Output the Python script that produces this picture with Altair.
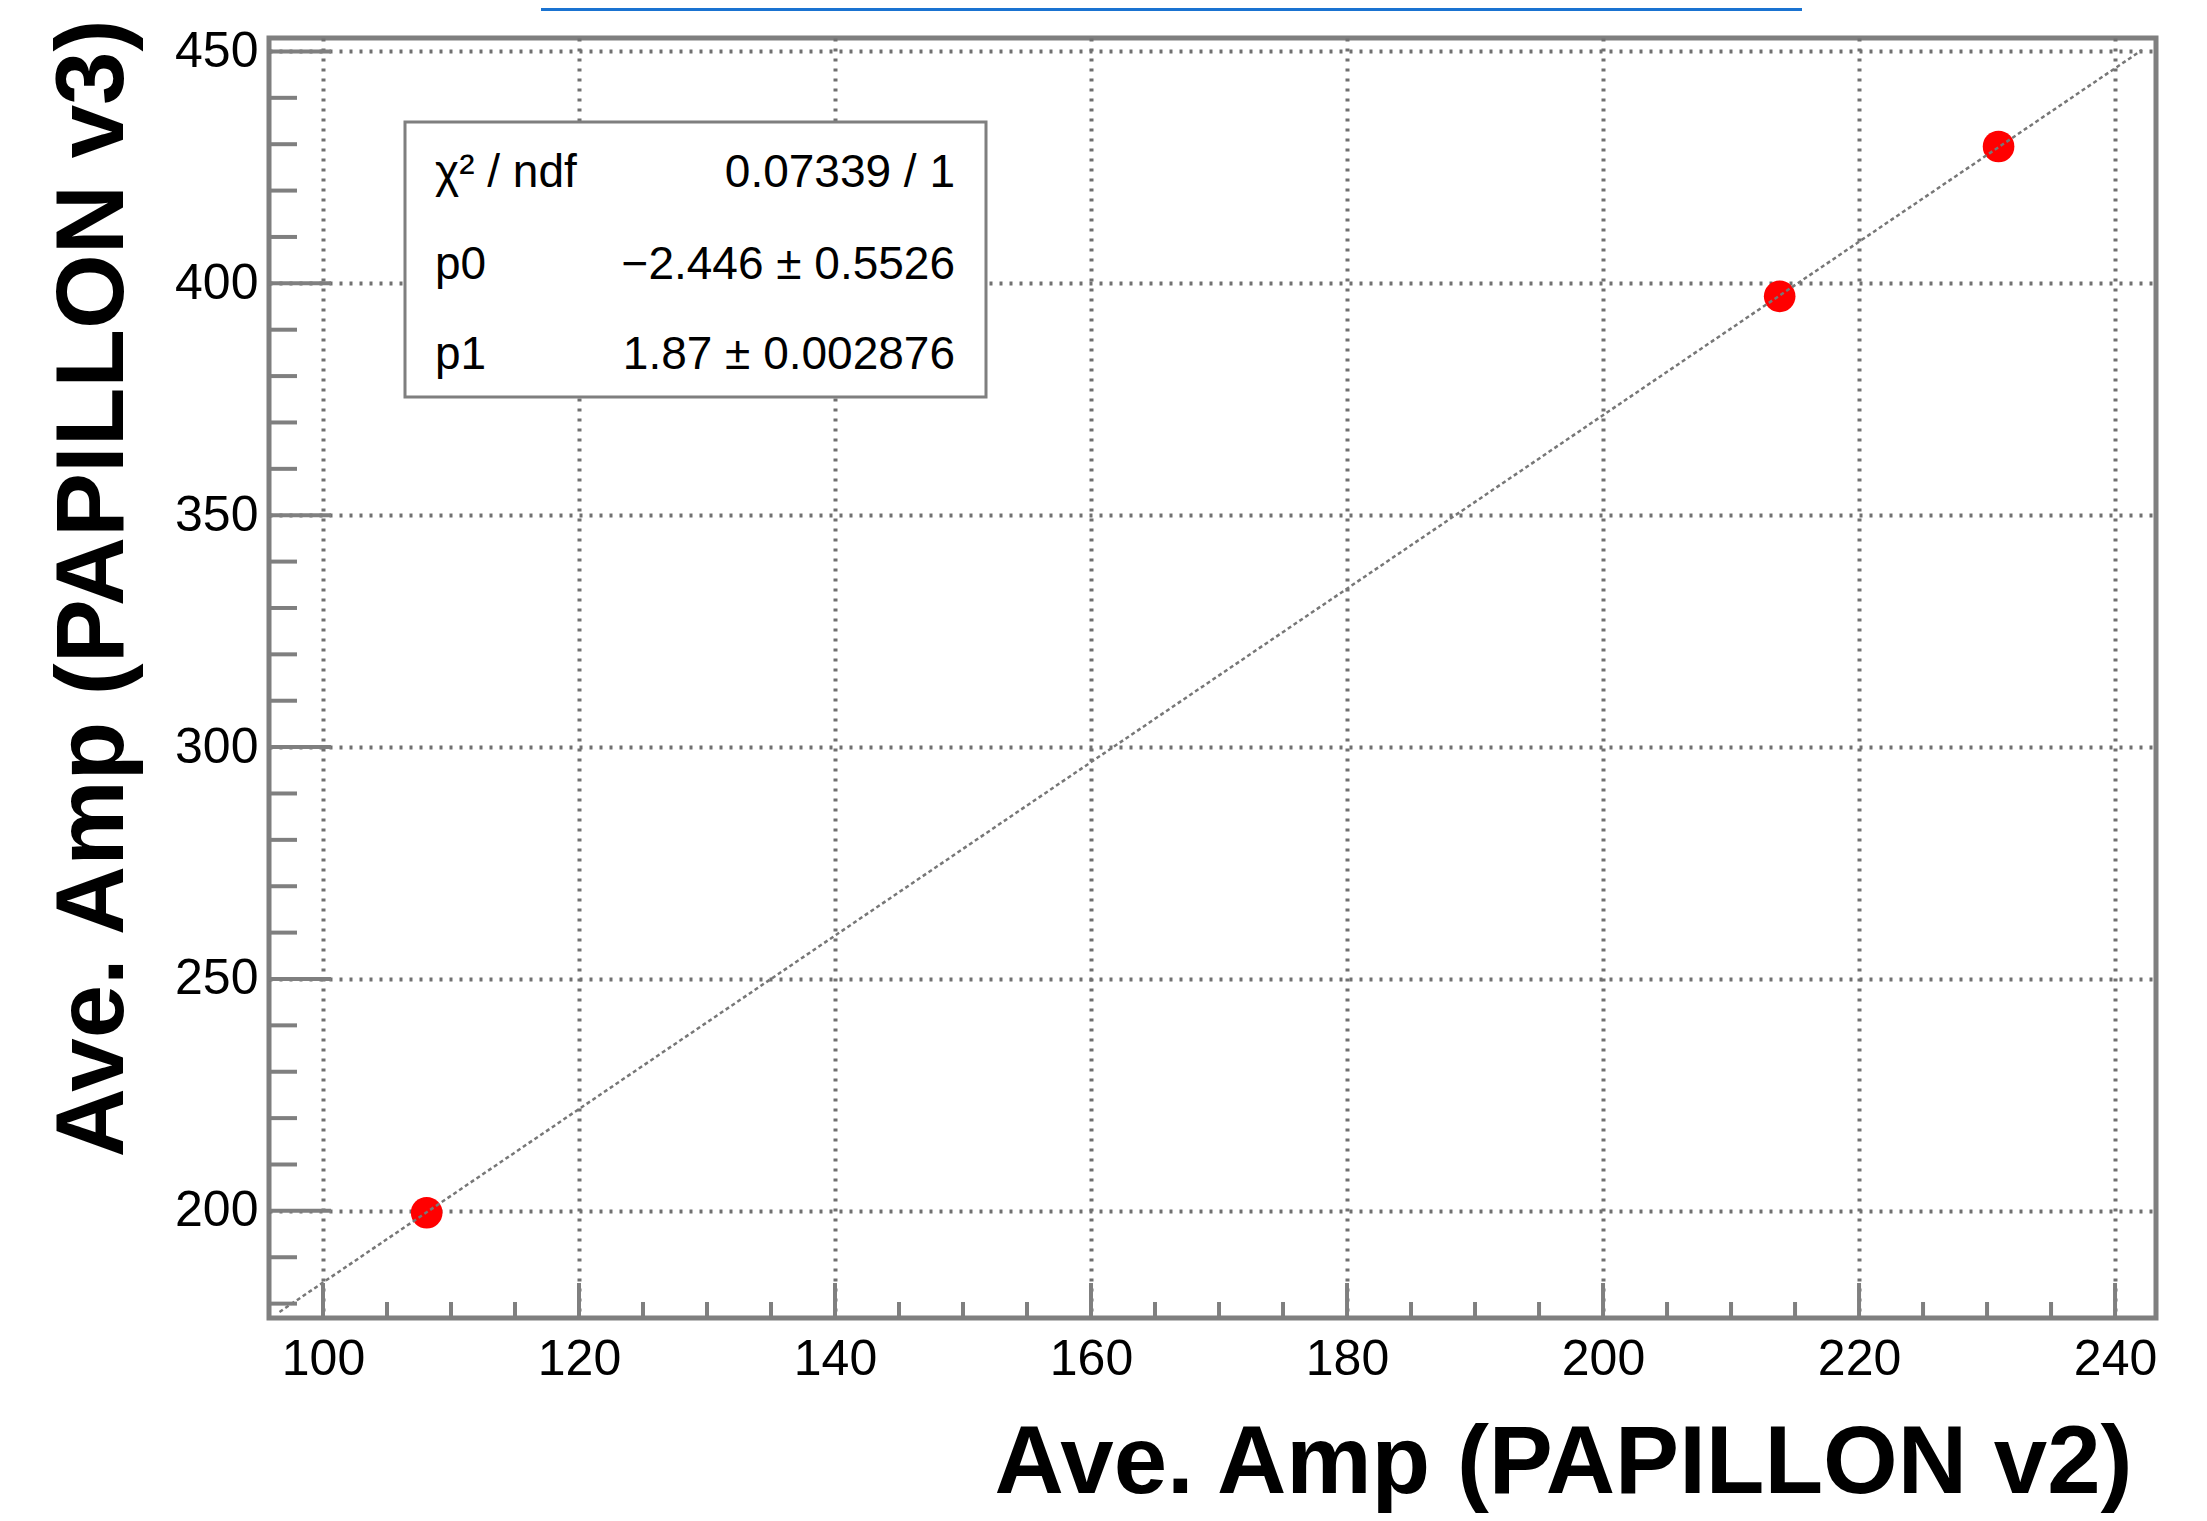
import altair as alt
import pandas as pd

# ---- data ----
amp_v2 = [108.1, 213.8, 230.9]
amp_v3 = [199.6, 397.2, 429.5]

fit_x = [96.6, 242.1]
fit_y = [178.2, 450.3]

x_major = [100, 120, 140, 160, 180, 200, 220, 240]
x_minor = [105, 110, 115, 125, 130, 135, 145, 150, 155, 165, 170, 175,
           185, 190, 195, 205, 210, 215, 225, 230, 235]
y_major = [200, 250, 300, 350, 400, 450]
y_minor = [180, 190, 210, 220, 230, 240, 260, 270, 280, 290, 310, 320, 330,
           340, 360, 370, 380, 390, 410, 420, 430, 440]

stat_names = ["χ² / ndf", "p0", "p1"]
stat_values = ["0.07339 / 1", "−2.446 ± 0.5526", "1.87 ± 0.002876"]

x_domain = [95.78, 243.2]
y_domain = [176.9, 452.9]

# ---- layout / style ----
W, H = 1887, 1280
FONT = "Liberation Sans"
GRAY = "#7f7f7f"
GRID = "#707070"

xs = alt.Scale(domain=x_domain, nice=False, zero=False)
ys = alt.Scale(domain=y_domain, nice=False, zero=False)

x_axis = alt.Axis(
    values=x_major, format="d", grid=True, gridDash=[3, 7], gridColor=GRID,
    gridWidth=4, ticks=False, tickSize=0, domain=False, labelFlush=False,
    labelFont=FONT, labelFontSize=50, labelColor="black",
    labelPadding=16,
    title="Ave. Amp (PAPILLON v2)", titleFont=FONT, titleFontSize=96,
    titleFontWeight="bold", titleColor="black", titleAlign="right",
    titleBaseline="alphabetic", titleX=1863, titleY=174,
)
y_axis = alt.Axis(
    values=y_major, format="d", grid=True, gridDash=[3, 7], gridColor=GRID,
    gridWidth=4, ticks=False, tickSize=0, domain=False, labelFlush=False,
    labelFont=FONT, labelFontSize=50, labelColor="black",
    labelPadding=11,
    title="Ave. Amp (PAPILLON v3)", titleFont=FONT, titleFontSize=96,
    titleFontWeight="bold", titleColor="black", titleAngle=270,
    titleAlign="left", titleBaseline="alphabetic", titleX=-147, titleY=1119,
)

pts = pd.DataFrame({"x": amp_v2, "y": amp_v3})
fit = pd.DataFrame({"x": fit_x, "y": fit_y})

points = alt.Chart(pts).mark_circle(size=1000, color="#ff0000", opacity=1).encode(
    x=alt.X("x:Q", scale=xs, axis=x_axis),
    y=alt.Y("y:Q", scale=ys, axis=y_axis),
)

fit_line = alt.Chart(fit).mark_line(
    color="#777777", strokeWidth=2.5, strokeDash=[4, 3]
).encode(
    x=alt.X("x:Q", scale=xs, axis=x_axis),
    y=alt.Y("y:Q", scale=ys, axis=y_axis),
)

def yticks(vals, length):
    return alt.Chart(pd.DataFrame({"y": vals})).mark_rule(
        color=GRAY, strokeWidth=4
    ).encode(
        y=alt.Y("y:Q", scale=ys, axis=y_axis),
        x=alt.value(0), x2=alt.value(length),
    )

def xticks(vals, length):
    return alt.Chart(pd.DataFrame({"x": vals})).mark_rule(
        color=GRAY, strokeWidth=4
    ).encode(
        x=alt.X("x:Q", scale=xs, axis=x_axis),
        y=alt.value(H), y2=alt.value(H - length),
    )

# stats box
box = alt.Chart(pd.DataFrame({"a": [0]})).mark_rect(
    fill="white", stroke=GRAY, strokeWidth=3
).encode(
    x=alt.value(136), x2=alt.value(717), y=alt.value(84), y2=alt.value(359)
)

stat_layers = []
row_y = [149, 241, 331]
for i in range(3):
    d = pd.DataFrame({"name": [stat_names[i]], "val": [stat_values[i]]})
    stat_layers.append(
        alt.Chart(d).mark_text(
            font=FONT, fontSize=46, color="black", align="left",
            baseline="alphabetic"
        ).encode(text="name:N", x=alt.value(166), y=alt.value(row_y[i]))
    )
    stat_layers.append(
        alt.Chart(d).mark_text(
            font=FONT, fontSize=46, color="black", align="right",
            baseline="alphabetic"
        ).encode(text="val:N", x=alt.value(686), y=alt.value(row_y[i]))
    )

blue = alt.Chart(pd.DataFrame({"a": [0]})).mark_rule(
    color="#1a73d1", strokeWidth=3
).encode(x=alt.value(272), x2=alt.value(1533), y=alt.value(-28.5))

chart = alt.layer(
    points,
    fit_line,
    yticks(y_major, 62),
    yticks(y_minor, 28),
    xticks(x_major, 35),
    xticks(x_minor, 16),
    box,
    *stat_layers,
    blue,
).properties(
    width=W, height=H,
    background="white",
    autosize=alt.AutoSizeParams(type="none"),
    padding={"left": 261, "top": 30, "right": 43, "bottom": 195},
).configure_view(
    stroke=GRAY, strokeWidth=5
)

chart.save("out.html", embed_options={"renderer": "svg", "actions": False})
